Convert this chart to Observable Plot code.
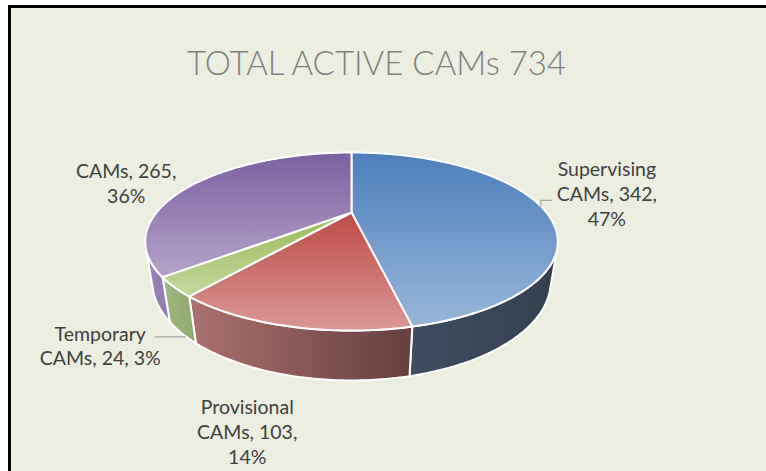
<!DOCTYPE html>
<html><head><meta charset="utf-8">
<script src="https://cdn.jsdelivr.net/npm/d3@7"></script>
<script src="https://cdn.jsdelivr.net/npm/@observablehq/plot@0.6"></script>
<style>
html,body{margin:0;padding:0;background:#fff;overflow:hidden;scrollbar-width:none;}
::-webkit-scrollbar{display:none;width:0;height:0;}
#frame{position:fixed;left:8px;top:5px;right:0;bottom:0;background:#EBEEE0;border-left:3px solid #000;border-top:3px solid #000;}
#chart{position:fixed;left:0;top:0;width:766px;height:471px;overflow:hidden;}
#chart svg{display:block;}
</style></head><body>
<div id="frame"></div>
<div id="chart"></div>
<script>
// ---- data ----
const title = "TOTAL ACTIVE CAMs 734";
const categories = ["Supervising CAMs", "Provisional CAMs", "Temporary CAMs", "CAMs"];
const values = [342, 103, 24, 265];
const topColors = [["#4E7FBB", "#97B5D9"], ["#BE4B48", "#DA9896"], ["#9BBB59", "#C5D8A0"], ["#7C60A0", "#B4A4C9"]];
const wallColors = [["#404D61", "#34404F"], ["#AA716F", "#653F3E"], ["#A0B880", "#8FA66E"], ["#9988B8", "#8C7AAA"]];

// ---- layout / projection ----
const W = 766, H = 471;
const CX = 351, CY = 212;               // pie centre on the page
const F = 546, DIST = 2.80, SA = 0.408, CA = 0.913, DEPTH = 0.219;
function proj(X, Y, Z) {
  const d = DIST - Y * SA + Z * CA;
  return [F * X / d, -F * (Y * CA + Z * SA) / d];
}
const rim = (t, Y) => proj(Math.sin(t), Y, Math.cos(t));

const total = d3.sum(values);
const pct = values.map(v => Math.round(v / total * 100) + "%");
let acc = 0;
const slices = values.map((v, i) => {
  const a0 = acc / total * 2 * Math.PI; acc += v;
  const a1 = acc / total * 2 * Math.PI;
  return {i, a0, a1, mid: (a0 + a1) / 2};
});

const topPts = [], wallPts = [];
const STEP = Math.PI / 240;
for (const s of slices) {
  topPts.push({id: "t" + s.i, fill: `url(#tg${s.i})`, x: 0, y: 0});
  const n = Math.max(2, Math.ceil((s.a1 - s.a0) / STEP));
  for (let k = 0; k <= n; k++) {
    const [x, y] = rim(s.a0 + (s.a1 - s.a0) * k / n, 0);
    topPts.push({id: "t" + s.i, fill: `url(#tg${s.i})`, x, y});
  }
  const v0 = Math.acos(-1 / (DIST * CA)), v1 = 2 * Math.PI - v0;
  const t0 = Math.max(s.a0, v0), t1 = Math.min(s.a1, v1);
  if (t1 > t0) {
    const m = Math.max(2, Math.ceil((t1 - t0) / STEP));
    const ring = [];
    for (let k = 0; k <= m; k++) ring.push(rim(t0 + (t1 - t0) * k / m, 0));
    for (let k = m; k >= 0; k--) ring.push(rim(t0 + (t1 - t0) * k / m, -DEPTH));
    for (const [x, y] of ring) wallPts.push({id: "w" + s.i, fill: `url(#wg${s.i})`, x, y});
  }
}

const wraps = ["name|\n", "name|\n", "name|", "none"];
const labelText = categories.map((c, i) => {
  const parts = c.split(" ");
  if (wraps[i] === "none") return `${c}, ${values[i]},\n${pct[i]}`;
  const head = parts[0], rest = parts.slice(1).join(" ");
  return wraps[i] === "name|\n"
    ? `${head}\n${rest}, ${values[i]},\n${pct[i]}`
    : `${head}\n${rest}, ${values[i]}, ${pct[i]}`;
});
const labelNudge = [[68, -11], [-40, 105], [-74, 58], [-70, 0]];
const labels = slices.map(s => {
  const [x, y] = rim(s.mid, 0);
  return {x: x + labelNudge[s.i][0], y: y + labelNudge[s.i][1], text: labelText[s.i]};
});
const leaders = [];
{
  const [x, y] = rim(slices[0].mid, 0);
  [[x + 2, y + 3], [x + 2, y - 4], [x + 13, y - 4]].forEach(([a, b]) => leaders.push({id: 0, x: a, y: b}));
  const [gx, gy] = rim(slices[2].mid, -DEPTH);
  [[gx + 4, gy + 4], [gx - 26, gy + 4]].forEach(([a, b]) => leaders.push({id: 2, x: a, y: b}));
}

const svg = Plot.plot({
  width: W, height: H,
  margin: 0,
  style: {background: "transparent"},
  x: {domain: [-CX, W - CX], range: [0, W], axis: null},
  y: {domain: [-CY, H - CY], range: [0, H], axis: null},
  color: {type: "identity"},
  marks: [
    Plot.line(wallPts, {x: "x", y: "y", z: "id", fill: "fill", stroke: "#ffffff", strokeWidth: 2, strokeLinejoin: "round", curve: "linear-closed"}),
    Plot.line(topPts, {x: "x", y: "y", z: "id", fill: "fill", stroke: "#ffffff", strokeWidth: 2, strokeLinejoin: "round", curve: "linear-closed"}),
    Plot.line(leaders, {x: "x", y: "y", z: "id", stroke: "#A6A6A6", strokeWidth: 1.3}),
    Plot.text(labels, {x: "x", y: "y", text: "text", fontFamily: "Lato", fontSize: 19.5, fill: "#404040", lineHeight: 1.27, textAnchor: "middle"}),
    Plot.text([title], {frameAnchor: "top", lineAnchor: "middle", dx: -7, dy: 64, fontFamily: "Lato", fontWeight: 300, fontSize: 33, fill: "#7F7F7F"})
  ]
});

const defs = d3.select(svg).insert("defs", ":first-child");
topColors.forEach(([c0, c1], i) => {
  const g = defs.append("linearGradient").attr("id", "tg" + i).attr("x1", 0).attr("y1", 0).attr("x2", 0).attr("y2", 1);
  g.append("stop").attr("offset", "0%").attr("stop-color", c0);
  g.append("stop").attr("offset", "100%").attr("stop-color", c1);
});
wallColors.forEach(([c0, c1], i) => {
  const g = defs.append("linearGradient").attr("id", "wg" + i).attr("x1", 0).attr("y1", 0).attr("x2", 1).attr("y2", 0);
  g.append("stop").attr("offset", "0%").attr("stop-color", c0);
  g.append("stop").attr("offset", "100%").attr("stop-color", c1);
});
document.getElementById("chart").appendChild(svg);
</script>
</body></html>
